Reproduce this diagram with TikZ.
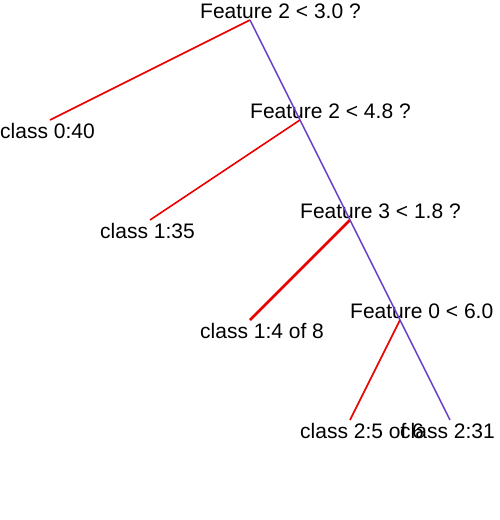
\documentclass[tikz,border=0pt]{standalone}
\usepackage{fontspec}
\setmainfont{Liberation Sans}
\definecolor{treeblue}{RGB}{100,60,200}
\definecolor{treered}{RGB}{235,0,0}
\tikzset{
  lbl/.style={anchor=base west, inner sep=0pt, font=\fontsize{21}{21}\selectfont},
  redline/.style={draw=treered, line width=1.6pt},
  thickred/.style={draw=treered, line width=2.8pt},
  blueline/.style={draw=treeblue, line width=1.4pt}
}
\begin{document}
\begin{tikzpicture}[x=1pt,y=-1pt]
\useasboundingbox (0,0) rectangle (500,520);
\coordinate (n0) at (250,20);
\coordinate (n1) at (300,120);
\coordinate (n2) at (350,220);
\coordinate (n3) at (400,320);
\coordinate (l0) at (50,120);
\coordinate (l1) at (150,220);
\coordinate (l2) at (250,320);
\coordinate (l3) at (350,420);
\coordinate (l4) at (450,420);
\node[lbl] (t0) at (200,18.8) {Feature 2 < 3.0 ?};
\node[lbl] (t1) at (250,118.8) {Feature 2 < 4.8 ?};
\node[lbl] (t2) at (300,218.8) {Feature 3 < 1.8 ?};
\node[lbl] (t3) at (350,318.8) {Feature 0 < 6.0};
\node[lbl] (s0) at (0,138.6) {class 0:40};
\node[lbl] (s1) at (100,238.6) {class 1:35};
\node[lbl] (s2) at (200,338.6) {class 1:4 of 8};
\node[lbl] (s3) at (300,438.6) {class 2:5 of 6};
\node[lbl] (s4) at (400,438.6) {class 2:31};
\draw[redline] (n0) -- (l0);
\draw[redline] (n1) -- (l1);
\draw[thickred] (n2) -- (l2);
\draw[redline] (n3) -- (l3);
\draw[blueline] (n0) -- (n1);
\draw[blueline] (n1) -- (n2);
\draw[blueline] (n2) -- (n3);
\draw[blueline] (n3) -- (l4);
\end{tikzpicture}
\end{document}
